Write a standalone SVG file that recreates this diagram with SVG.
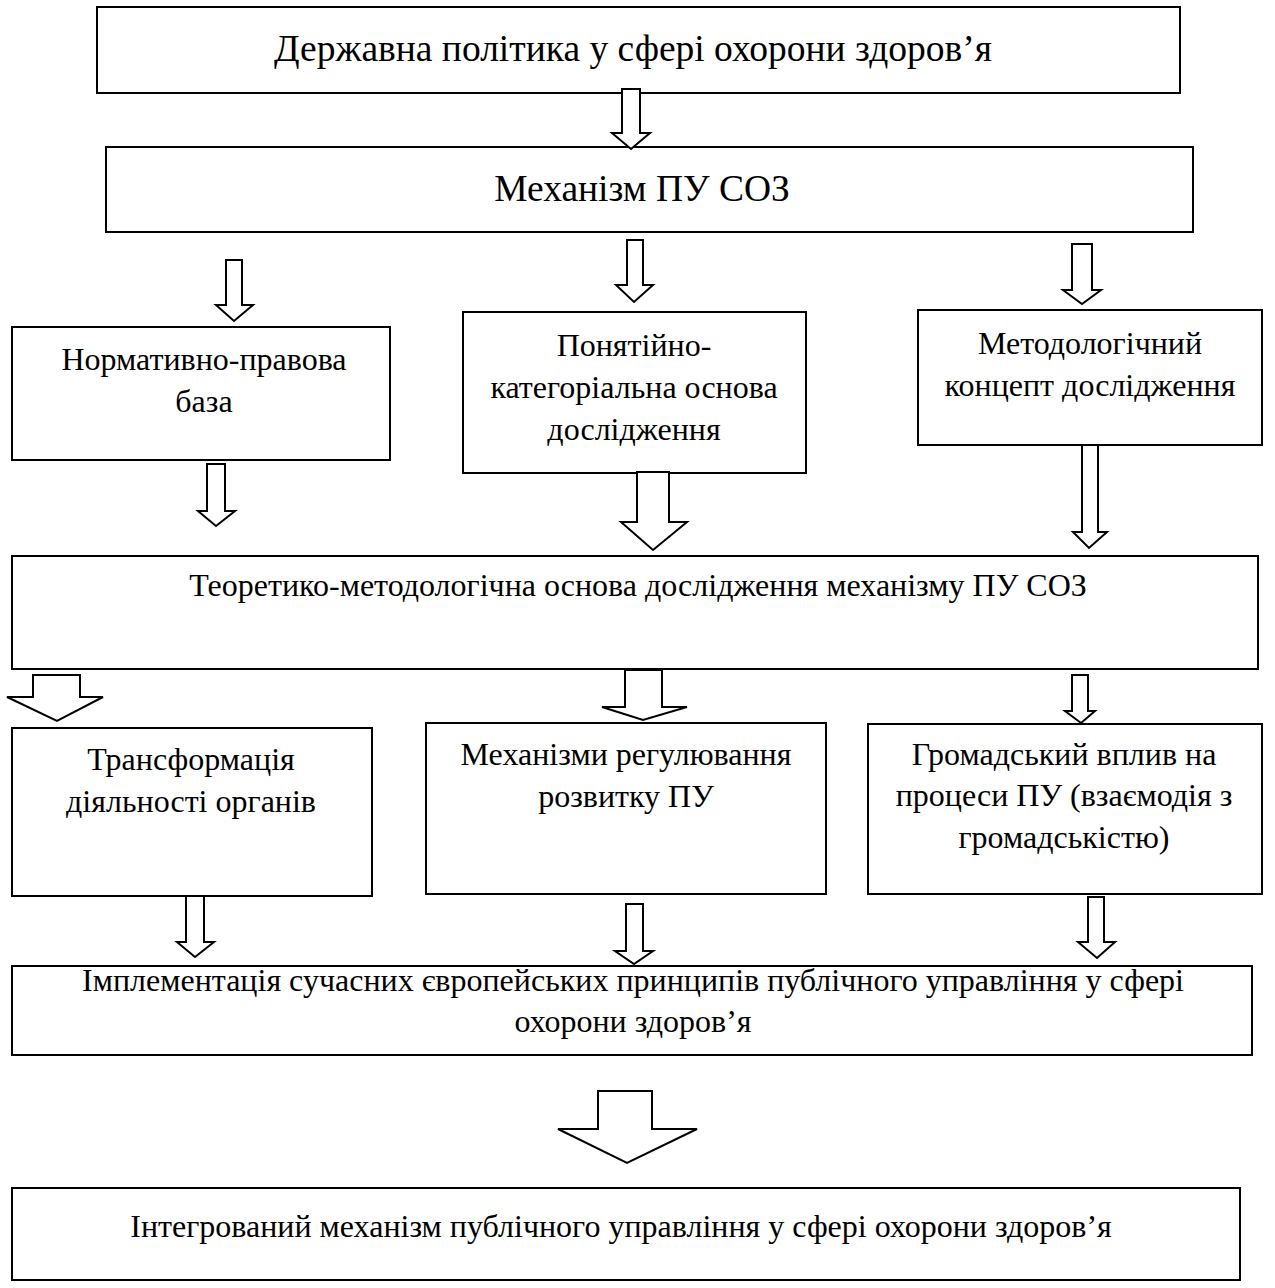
<svg xmlns="http://www.w3.org/2000/svg" width="1275" height="1288" viewBox="0 0 1275 1288">
<style>
.box{fill:#fff;stroke:#000;stroke-width:2}
.arr{fill:#fff;stroke:#000;stroke-width:2;stroke-linejoin:miter}
text{font-family:"Liberation Serif","Times New Roman",serif;fill:#000;text-anchor:middle;font-size:32px}
.big{font-size:37.5px}
</style>
<rect width="1275" height="1288" fill="#fff"/>
<g id="n1"><rect class="box" x="97" y="7" width="1083" height="86"/><text class="big" x="633" y="61">Державна політика у сфері охорони здоров’я</text></g>
<g id="n2"><rect class="box" x="106" y="147" width="1087" height="85"/><text class="big" x="642" y="201">Механізм ПУ СОЗ</text></g>
<g id="n3"><rect class="box" x="12" y="327" width="378" height="133"/><text x="204" y="370">Нормативно-правова</text><text x="204" y="412">база</text></g>
<g id="n4"><rect class="box" x="463" y="312" width="343" height="161"/><text x="634" y="356">Понятійно-</text><text x="634" y="398">категоріальна основа</text><text x="634" y="440">дослідження</text></g>
<g id="n5"><rect class="box" x="918" y="310" width="344" height="135"/><text x="1090" y="354">Методологічний</text><text x="1090" y="396">концепт дослідження</text></g>
<g id="n6"><rect class="box" x="12" y="556" width="1246" height="113"/><text x="638" y="596">Теоретико-методологічна основа дослідження механізму ПУ СОЗ</text></g>
<g id="n7"><rect class="box" x="12" y="728" width="360" height="168"/><text x="191" y="770">Трансформація</text><text x="191" y="812">діяльності органів</text></g>
<g id="n8"><rect class="box" x="426" y="723" width="400" height="171"/><text x="626" y="765">Механізми регулювання</text><text x="626" y="807">розвитку ПУ</text></g>
<g id="n9"><rect class="box" x="868" y="724" width="394" height="170"/><text x="1064" y="765">Громадський вплив на</text><text x="1064" y="806">процеси ПУ (взаємодія з</text><text x="1064" y="848">громадськістю)</text></g>
<g id="n10"><rect class="box" x="12" y="966" width="1240" height="89"/><text x="633" y="991">Імплементація сучасних європейських принципів публічного управління у сфері</text><text x="633" y="1032">охорони здоров’я</text></g>
<g id="n11"><rect class="box" x="12" y="1188" width="1228" height="92"/><text x="621" y="1237">Інтегрований механізм публічного управління у сфері охорони здоров’я</text></g>
<g id="connectors">
<polygon class="arr" points="622,89 640,89 640,133 650,133 631,149 612,133 622,133"/>
<polygon class="arr" points="226,260 242,260 242,305 253,305 234,321 216,305 226,305"/>
<polygon class="arr" points="627,240 643,240 643,285 653,285 634,302 616,285 627,285"/>
<polygon class="arr" points="1072,244 1092,244 1092,290 1101,290 1082,304 1063,290 1072,290"/>
<polygon class="arr" points="207,464 225,464 225,511 235,511 216,526 198,511 207,511"/>
<polygon class="arr" points="637,472 669,472 669,522 687,522 653,550 621,522 637,522"/>
<polygon class="arr" points="1082,445 1098,445 1098,532 1107,532 1089,548 1073,532 1082,532"/>
<polygon class="arr" points="33,675 80,675 80,697 103,697 57,721 7,697 33,697"/>
<polygon class="arr" points="625,670 662,670 662,707 687,707 643,720 602,707 625,707"/>
<polygon class="arr" points="1072,675 1088,675 1088,711 1095,711 1081,723 1065,711 1072,711"/>
<polygon class="arr" points="186,896 204,896 204,942 214,942 195,957 177,942 186,942"/>
<polygon class="arr" points="626,904 643,904 643,951 653,951 634,964 615,951 626,951"/>
<polygon class="arr" points="1088,897 1104,897 1104,942 1115,942 1097,958 1078,942 1088,942"/>
<polygon class="arr" points="598,1091 652,1091 652,1129 697,1129 627,1163 558,1129 598,1129"/>
</g>
</svg>
